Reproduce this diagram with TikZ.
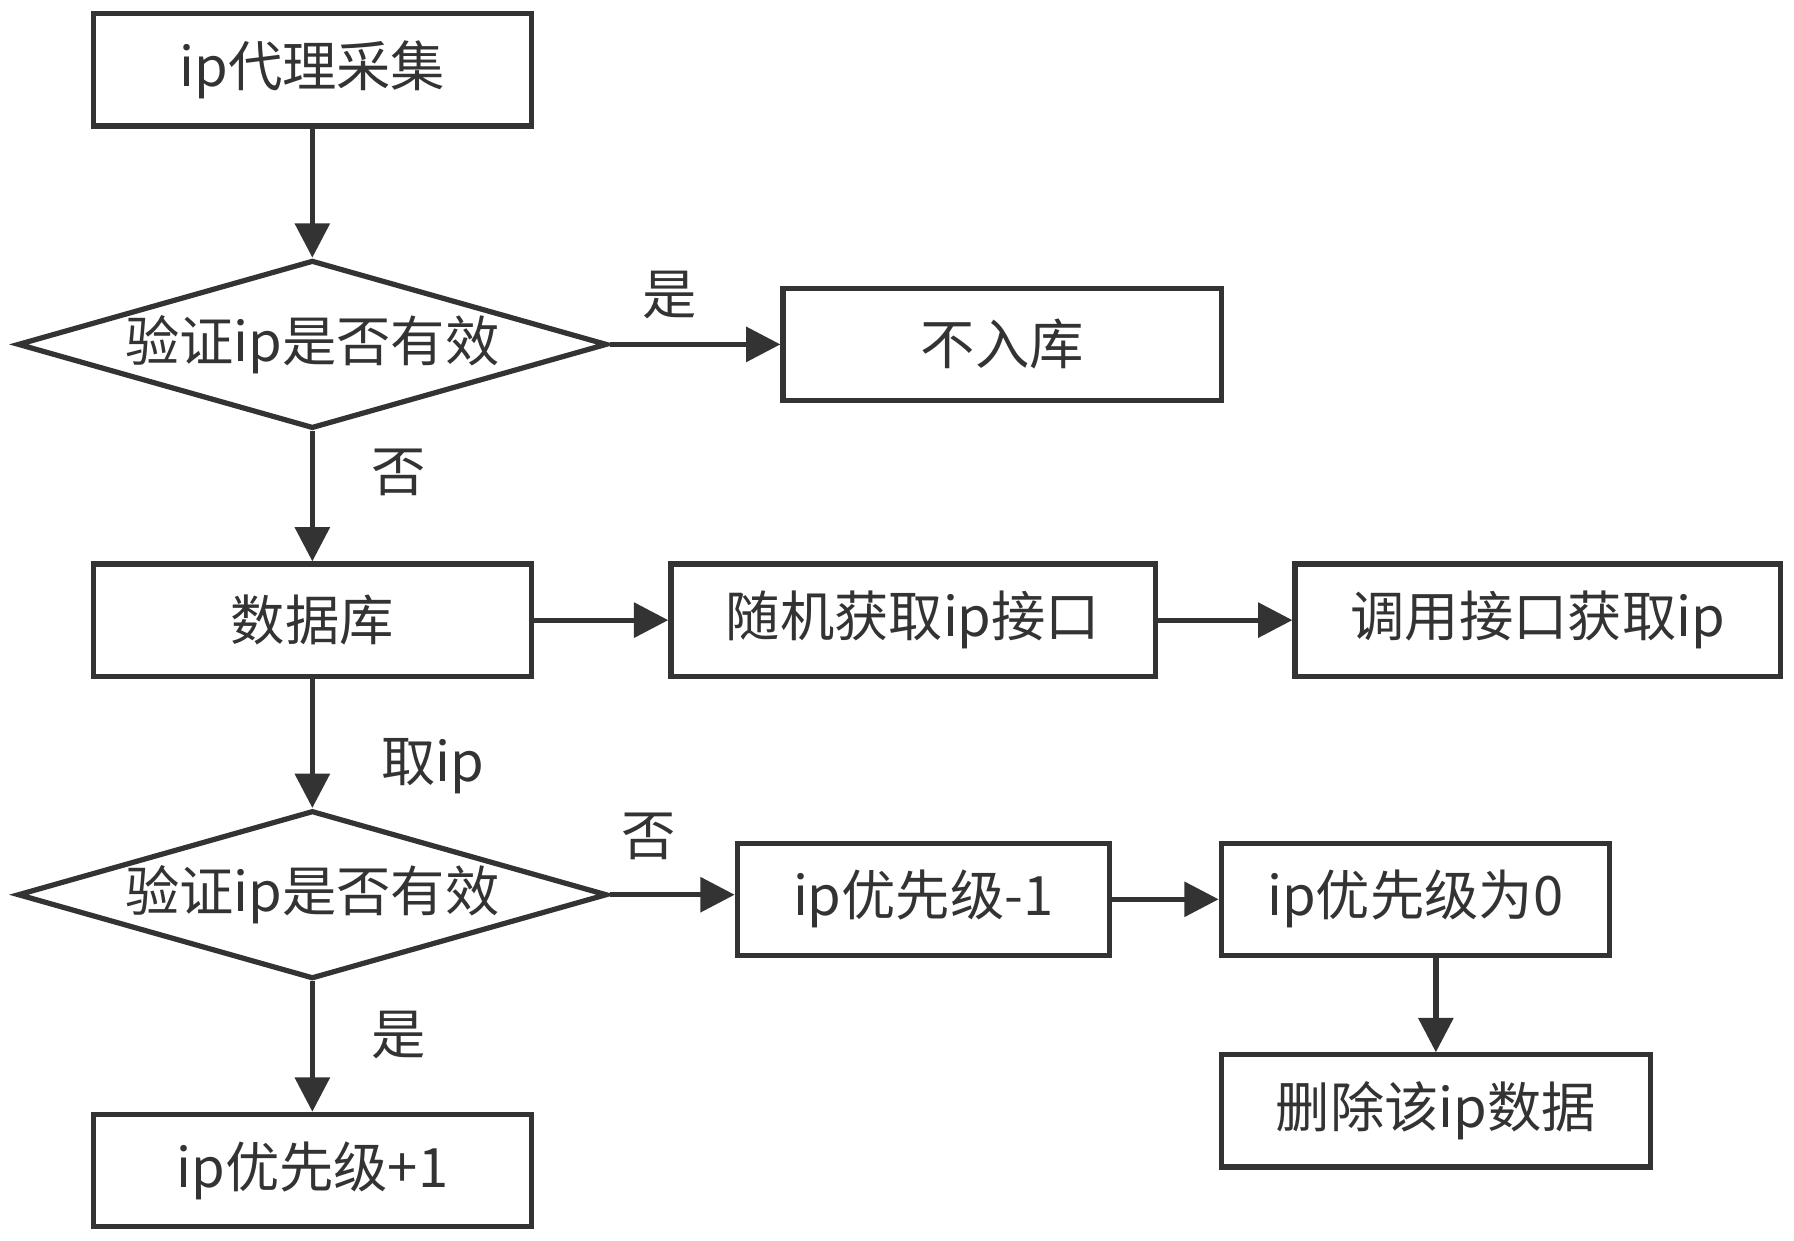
\documentclass[tikz,border=0pt]{standalone}
\usepackage{fontspec}
\setmainfont{Noto Sans CJK SC}
\usetikzlibrary{shapes.geometric,arrows.meta}
\definecolor{ln}{HTML}{333333}
\begin{document}
\begin{tikzpicture}[x=0.01cm,y=-0.01cm,
  every node/.style={font=\fontsize{13.5}{16}\selectfont,text=ln},
  box/.style={draw=ln,line width=1.3pt,rectangle,inner sep=0pt},
  dia/.style={draw=ln,line width=1.3pt,diamond,aspect=3.5,inner sep=0pt,minimum width=5.15cm,minimum height=1.47cm},
  arr/.style={draw=ln,line width=1.3pt,-{Triangle[length=0.3cm,width=0.3cm]}},
  lab/.style={font=\fontsize{13.5}{16}\selectfont}]
\useasboundingbox (0,0) rectangle (1568,1084);
\node[box,minimum width=3.83cm,minimum height=0.98cm] (a) at (273,61) {ip代理采集};
\node[dia] (d1) at (273,301) {验证ip是否有效};
\node[box,minimum width=3.83cm,minimum height=0.98cm] (n) at (876,301) {不入库};
\node[box,minimum width=3.83cm,minimum height=0.98cm] (db) at (273,542) {数据库};
\node[box,minimum width=4.23cm,minimum height=0.98cm] (r) at (798,542) {随机获取ip接口};
\node[box,minimum width=4.24cm,minimum height=0.98cm] (c) at (1344,542) {调用接口获取ip};
\node[dia] (d2) at (273,782) {验证ip是否有效};
\node[box,minimum width=3.25cm,minimum height=0.98cm] (m) at (807,786) {ip优先级-1};
\node[box,minimum width=3.39cm,minimum height=0.98cm] (z) at (1237,786) {ip优先级为0};
\node[box,minimum width=3.75cm,minimum height=0.98cm] (del) at (1255,971) {删除该ip数据};
\node[box,minimum width=3.83cm,minimum height=0.98cm] (p) at (273,1023) {ip优先级+1};
\draw[arr] (a) -- (d1);
\draw[arr] (d1) -- (n);
\draw[arr] (d1) -- (db);
\draw[arr] (db) -- (r);
\draw[arr] (r) -- (c);
\draw[arr] (db) -- (d2);
\draw[arr] (d2.east) -- (d2.east -| m.west);
\draw[arr] (m) -- (z);
\draw[arr] (z.south -| del) -- (del);
\draw[arr] (d2) -- (p);
\node[lab] (l1) at (585,258) {是};
\node[lab] (l2) at (348,413) {否};
\node[lab] (l3) at (378,670) {取ip};
\node[lab] (l4) at (567,731) {否};
\node[lab] (l5) at (348,905) {是};
\end{tikzpicture}
\end{document}
